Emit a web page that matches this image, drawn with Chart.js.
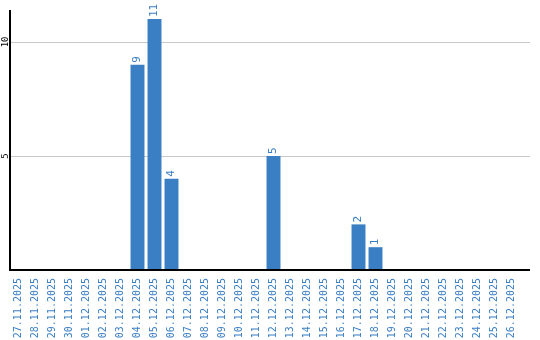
<!DOCTYPE html>
<html>
<head>
<meta charset="utf-8">
<script src="https://cdn.jsdelivr.net/npm/chart.js@4.4.1/dist/chart.umd.min.js"></script>
<style>
  html, body { margin: 0; padding: 0; background: #fff; }
  #wrap { width: 540px; height: 340px; }
</style>
</head>
<body>
<div id="wrap"><canvas id="grafik" width="540" height="340"></canvas></div>
<script>
// data harian
const tanggal = [
  "27.11.2025","28.11.2025","29.11.2025","30.11.2025","01.12.2025","02.12.2025",
  "03.12.2025","04.12.2025","05.12.2025","06.12.2025","07.12.2025","08.12.2025",
  "09.12.2025","10.12.2025","11.12.2025","12.12.2025","13.12.2025","14.12.2025",
  "15.12.2025","16.12.2025","17.12.2025","18.12.2025","19.12.2025","20.12.2025",
  "21.12.2025","22.12.2025","23.12.2025","24.12.2025","25.12.2025","26.12.2025"
];
const jumlah = [0,0,0,0,0,0,0,9,11,4,0,0,0,0,0,5,0,0,0,0,2,1,0,0,0,0,0,0,0,0];
const tickY = [5, 10];

const biru = "#3a7ec3";
const monoFont = "'DejaVu Sans Mono', monospace";

// grid + sumbu digambar sedikit lebih panjang ke kanan (seperti aslinya)
const gridPlugin = {
  id: "gridPanjang",
  beforeDatasetsDraw(chart) {
    const { ctx, chartArea, scales } = chart;
    const kanan = chartArea.right + 10;
    ctx.save();
    ctx.strokeStyle = "#c8c8c8";
    ctx.lineWidth = 1;
    tickY.forEach(v => {
      const y = Math.round(scales.y.getPixelForValue(v)) + 0.5;
      ctx.beginPath();
      ctx.moveTo(chartArea.left, y);
      ctx.lineTo(kanan, y);
      ctx.stroke();
    });
    ctx.restore();
  },
  afterDatasetsDraw(chart) {
    const { ctx, chartArea, scales } = chart;
    ctx.save();
    ctx.strokeStyle = "#000";
    ctx.lineWidth = 2;
    ctx.beginPath();
    ctx.moveTo(chartArea.left, chartArea.top);
    ctx.lineTo(chartArea.left, chartArea.bottom);
    ctx.lineTo(chartArea.right + 10, chartArea.bottom);
    ctx.stroke();

    // label sumbu Y, diputar
    ctx.fillStyle = "#000";
    ctx.font = "9px " + monoFont;
    ctx.textAlign = "center";
    ctx.textBaseline = "middle";
    tickY.forEach(v => {
      ctx.save();
      ctx.translate(5.5, scales.y.getPixelForValue(v));
      ctx.rotate(-Math.PI / 2);
      ctx.fillText(String(v), 0, 0);
      ctx.restore();
    });
    ctx.restore();
  }
};

// angka di atas batang, diputar
const labelPlugin = {
  id: "labelBatang",
  afterDatasetsDraw(chart) {
    const { ctx } = chart;
    const meta = chart.getDatasetMeta(0);
    ctx.save();
    ctx.fillStyle = biru;
    ctx.font = "11px " + monoFont;
    ctx.textAlign = "left";
    ctx.textBaseline = "middle";
    meta.data.forEach((bar, i) => {
      if (!jumlah[i]) return;
      ctx.save();
      ctx.translate(bar.x, bar.y - 2);
      ctx.rotate(-Math.PI / 2);
      ctx.fillText(String(jumlah[i]), 0, 0);
      ctx.restore();
    });
    ctx.restore();
  }
};

new Chart(document.getElementById("grafik"), {
  type: "bar",
  data: {
    labels: tanggal,
    datasets: [{
      data: jumlah,
      backgroundColor: biru,
      barPercentage: 0.82,
      categoryPercentage: 1
    }]
  },
  options: {
    responsive: false,
    animation: false,
    layout: { padding: { top: 10, right: 20, left: 0, bottom: 0 } },
    plugins: { legend: { display: false }, tooltip: { enabled: false } },
    scales: {
      x: {
        grid: { display: false },
        border: { display: false },
        afterFit(s) { s.height = 70; },
        ticks: {
          color: biru,
          font: { family: monoFont, size: 10 },
          minRotation: 90,
          maxRotation: 90,
          autoSkip: false,
          padding: 0
        }
      },
      y: {
        min: 0,
        max: 11.4,
        grid: { display: false },
        border: { display: false },
        afterFit(s) { s.width = 10; },
        afterBuildTicks(s) { s.ticks = tickY.map(v => ({ value: v })); },
        ticks: { display: false }
      }
    }
  },
  plugins: [gridPlugin, labelPlugin]
});
</script>
</body>
</html>
